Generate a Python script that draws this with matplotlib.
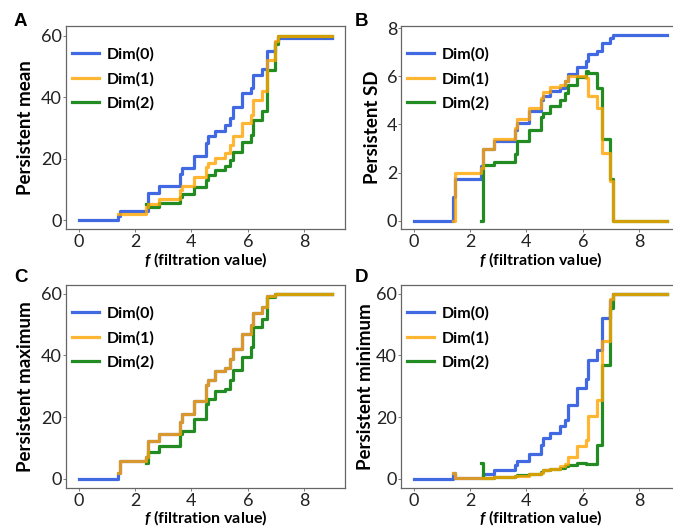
import numpy as np
import matplotlib
matplotlib.use('Agg')
from matplotlib import pyplot as plt

nan = np.nan

# filtration values where the step curves change
f_vals = [0.0, 1.40, 1.45, 2.38, 2.47, 2.85, 3.58, 3.66, 4.09, 4.50, 4.58, 4.82,
          5.20, 5.36, 5.46, 5.81, 6.10, 6.20, 6.50, 6.69, 6.98, 7.09, 9.0]

mean_dim0 = [0, 1.5, 3.0, 3.0, 9.0, 11.1, 15.0, 17.1, 21.0, 25.2, 27.3, 29.0,
             31.0, 33.4, 37.0, 41.3, 43.1, 47.2, 49.2, 55.1, 58.0, 59.2, 59.2]
mean_dim1 = [nan, 2.0, 2.1, 4.5, 5.3, 6.9, 9.9, 11.2, 14.2, 17.3, 18.7, 20.4,
             22.0, 24.5, 27.4, 31.6, 34.2, 39.2, 42.1, 52.3, 58.2, 60.1, 60.1]
mean_dim2 = [nan, nan, nan, 5.2, 4.5, 5.8, 7.6, 8.6, 10.7, 13.0, 14.8, 16.5,
             17.8, 19.7, 22.3, 25.6, 27.8, 32.6, 35.6, 49.0, 57.5, 60.1, 60.1]

sd_dim0 = [0, 1.0, 1.73, 2.26, 2.99, 3.33, 3.78, 4.06, 4.57, 5.03, 5.17, 5.38,
           5.52, 5.79, 6.10, 6.38, 6.65, 6.93, 7.07, 7.39, 7.62, 7.72, 7.72]
sd_dim1 = [nan, 0.0, 2.0, 2.2, 3.0, 3.38, 3.84, 4.24, 4.70, 5.10, 5.37, 5.55,
           5.64, 5.80, 6.0, 6.0, 5.92, 5.17, 4.69, 2.81, 1.64, 0.0, 0.0]
sd_dim2 = [nan, nan, nan, 0.0, 2.33, 2.43, 2.77, 3.30, 3.78, 4.30, 4.48, 4.76,
           5.03, 5.31, 5.65, 5.96, 6.24, 6.14, 5.52, 3.41, 1.75, 0.0, 0.0]

max_dim0 = [0, 2.0, 5.6, 7.0, 12.2, 14.6, 18.4, 21.1, 25.1, 30.3, 31.9, 34.9,
            35.9, 38.7, 41.9, 47.0, 49.9, 53.8, 55.7, 59.2, 59.9, 60.0, 60.0]
max_dim1 = [nan, 2.0, 5.6, 7.0, 12.2, 14.6, 18.4, 21.1, 25.1, 30.3, 31.9, 34.9,
            35.9, 38.7, 41.9, 47.0, 49.9, 53.8, 55.7, 59.2, 59.9, 60.0, 60.0]
max_dim2 = [nan, nan, nan, 5.0, 8.6, 10.6, 14.6, 15.4, 19.5, 24.3, 25.9, 28.6,
            29.2, 31.9, 35.1, 39.5, 42.7, 49.2, 51.9, 58.8, 59.8, 60.0, 60.0]

min_dim0 = [0, 2.0, 0.4, 0.4, 1.6, 2.8, 4.3, 5.6, 7.9, 11.0, 13.3, 14.9,
            17.0, 18.9, 24.0, 29.4, 32.4, 38.4, 41.6, 52.1, 57.8, 60.0, 60.0]
min_dim1 = [nan, 2.0, 0.4, 0.4, 0.4, 0.5, 0.8, 1.0, 1.4, 2.0, 2.8, 3.2,
            4.1, 4.9, 7.2, 10.6, 12.6, 20.3, 25.5, 44.8, 58.3, 60.0, 60.0]
min_dim2 = [nan, nan, nan, 5.2, 0.4, 0.5, 0.9, 1.1, 1.6, 2.3, 2.9, 3.3,
            3.6, 4.1, 4.4, 5.2, 4.9, 4.8, 10.9, 36.9, 55.2, 60.0, 60.0]

panels = [
    ('A', 'Persistent mean', [mean_dim0, mean_dim1, mean_dim2], [0, 20, 40, 60], (-2.8, 63.2)),
    ('B', 'Persistent SD', [sd_dim0, sd_dim1, sd_dim2], [0, 2, 4, 6, 8], (-0.35, 8.1)),
    ('C', 'Persistent maximum', [max_dim0, max_dim1, max_dim2], [0, 20, 40, 60], (-3.0, 62.8)),
    ('D', 'Persistent minimum', [min_dim0, min_dim1, min_dim2], [0, 20, 40, 60], (-3.0, 62.8)),
]

dim_labels = ['Dim(0)', 'Dim(1)', 'Dim(2)']
colors = ['#4169E1', '#FFA500', '#228B22']
alphas = [1.0, 0.8, 1.0]
zorders = [2, 4, 3]

plt.rcParams['font.family'] = 'Lato'
plt.rcParams['mathtext.fontset'] = 'custom'
plt.rcParams['mathtext.it'] = 'Lato:italic:bold'
plt.rcParams['mathtext.rm'] = 'Lato:bold'

fig = plt.figure(figsize=(6.73, 5.28), dpi=100)
W, H = 673.0, 528.0
boxes = [(66, 26), (401, 26), (66, 285), (401, 285)]
ylab_x = [-0.115, -0.072, -0.115, -0.098]
xlab_pad = [0, 0, -0.5, -0.5]
letter_pos = [(20, 21), (362, 21), (21, 277), (362, 278)]

for (letter, ylabel, series, yticks, ylim), (left, top), lx, xp, (tx, ty) in zip(
        panels, boxes, ylab_x, xlab_pad, letter_pos):
    ax = fig.add_axes([left / W, 1 - (top + 203) / H, 279 / W, 203 / H])
    handles = []
    for vals, lab, c, a, z in zip(series, dim_labels, colors, alphas, zorders):
        h, = ax.step(f_vals, vals, where='post', color=c, alpha=a, lw=2.3, zorder=z, label=lab)
        handles.append(h)
    ax.set_xlim(-0.45, 9.45)
    ax.set_ylim(*ylim)
    ax.set_xticks([0, 2, 4, 6, 8])
    ax.set_yticks(yticks)
    ax.tick_params(labelsize=13, length=2, width=0.6, color='#666666', labelcolor='#222222')
    ax.tick_params(axis='x', pad=1.6)
    ax.tick_params(axis='y', pad=0.8)
    for s in ax.spines.values():
        s.set_color('#666666')
        s.set_linewidth(0.9)
    ax.set_ylabel(ylabel, fontsize=13.5, fontweight='bold')
    ax.yaxis.set_label_coords(lx, 0.5)
    ax.set_xlabel(r'$f$ (filtration value)', fontsize=11.5, fontweight='bold', labelpad=xp)
    ax.legend(handles=handles, loc='upper left', frameon=False,
              prop={'weight': 'bold', 'size': 11.5}, handlelength=1.7, handletextpad=0.5,
              labelspacing=0.62, borderaxespad=0, borderpad=0,
              bbox_to_anchor=(0.0215, 0.895))
    fig.text(tx / W, 1 - ty / H, letter, fontsize=13.5, fontweight='bold',
             family='Liberation Sans', ha='center', va='center')

fig.savefig('out.png', dpi=100)
